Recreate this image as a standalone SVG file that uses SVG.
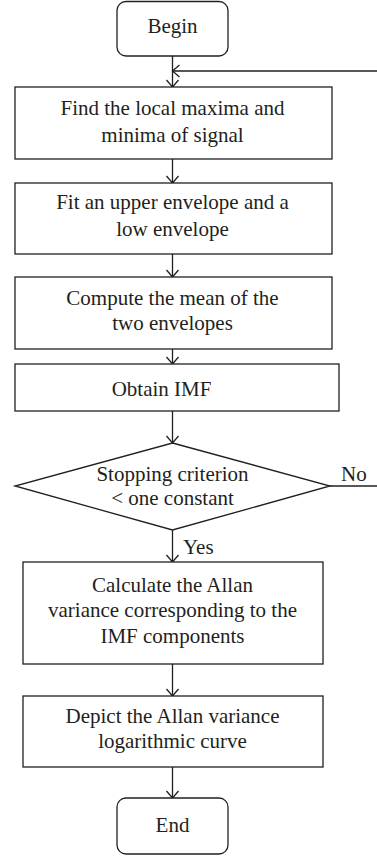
<svg xmlns="http://www.w3.org/2000/svg" width="377" height="857" viewBox="0 0 377 857">
<style>
.box{fill:#fff;stroke:#231f20;stroke-width:1.3}
.t{font-family:'Liberation Serif',serif;font-size:21px;fill:#231f20;text-anchor:middle}
.l{font-family:'Liberation Serif',serif;font-size:21px;fill:#231f20}
.c{fill:none;stroke:#231f20;stroke-width:1.3}
</style>
<defs>
<marker id="arr" markerUnits="userSpaceOnUse" markerWidth="16" markerHeight="16" viewBox="-8 -8 16 16" refX="0" refY="0" orient="auto">
<path d="M-7,-6 L0,0 L-7,6" fill="none" stroke="#231f20" stroke-width="1.3"/>
</marker>
</defs>
<rect width="377" height="857" fill="#fff"/>
<g id="connectors">
<line class="c" x1="172.5" y1="56" x2="172.5" y2="87" marker-end="url(#arr)"/>
<line class="c" x1="377" y1="71" x2="172.5" y2="71" marker-end="url(#arr)"/>
<line class="c" x1="172.5" y1="159" x2="172.5" y2="183" marker-end="url(#arr)"/>
<line class="c" x1="172.5" y1="254" x2="172.5" y2="277" marker-end="url(#arr)"/>
<line class="c" x1="172.5" y1="349" x2="172.5" y2="364" marker-end="url(#arr)"/>
<line class="c" x1="172.5" y1="411" x2="172.5" y2="443" marker-end="url(#arr)"/>
<line class="c" x1="330" y1="486" x2="377" y2="486"/>
<line class="c" x1="172.5" y1="530" x2="172.5" y2="562" marker-end="url(#arr)"/>
<line class="c" x1="172.5" y1="664" x2="172.5" y2="696" marker-end="url(#arr)"/>
<line class="c" x1="172.5" y1="767" x2="172.5" y2="798" marker-end="url(#arr)"/>
<text class="l" x="341" y="481">No</text>
<text class="l" x="183" y="554">Yes</text>
</g>
<g id="begin">
<rect class="box" x="117" y="1.5" width="111" height="54.5" rx="9"/>
<text class="t" x="172.5" y="33">Begin</text>
</g>
<g id="find">
<rect class="box" x="15" y="87" width="317" height="72"/>
<text class="t" x="172.5" y="115">Find the local maxima and</text>
<text class="t" x="172.5" y="142">minima of signal</text>
</g>
<g id="fit">
<rect class="box" x="15" y="183" width="317" height="71"/>
<text class="t" x="172.5" y="209">Fit an upper envelope and a</text>
<text class="t" x="172.5" y="236">low envelope</text>
</g>
<g id="compute">
<rect class="box" x="15" y="277" width="317" height="72"/>
<text class="t" x="172.5" y="305">Compute the mean of the</text>
<text class="t" x="172.5" y="330">two envelopes</text>
</g>
<g id="obtain">
<rect class="box" x="15" y="364" width="324" height="47"/>
<text class="t" x="161.5" y="396">Obtain IMF</text>
</g>
<g id="decision">
<polygon class="box" points="172.5,443 330,486 172.5,530 15,486"/>
<text class="t" x="172.5" y="481">Stopping criterion</text>
<text class="t" x="172.5" y="505">&lt; one constant</text>
</g>
<g id="calculate">
<rect class="box" x="23" y="562" width="300" height="102"/>
<text class="t" x="172.5" y="592">Calculate the Allan</text>
<text class="t" x="172.5" y="617">variance corresponding to the</text>
<text class="t" x="172.5" y="643">IMF components</text>
</g>
<g id="depict">
<rect class="box" x="23" y="696" width="300" height="71"/>
<text class="t" x="172.5" y="723">Depict the Allan variance</text>
<text class="t" x="172.5" y="748">logarithmic curve</text>
</g>
<g id="end">
<rect class="box" x="117" y="798" width="111" height="56" rx="9"/>
<text class="t" x="172.5" y="832">End</text>
</g>
</svg>
